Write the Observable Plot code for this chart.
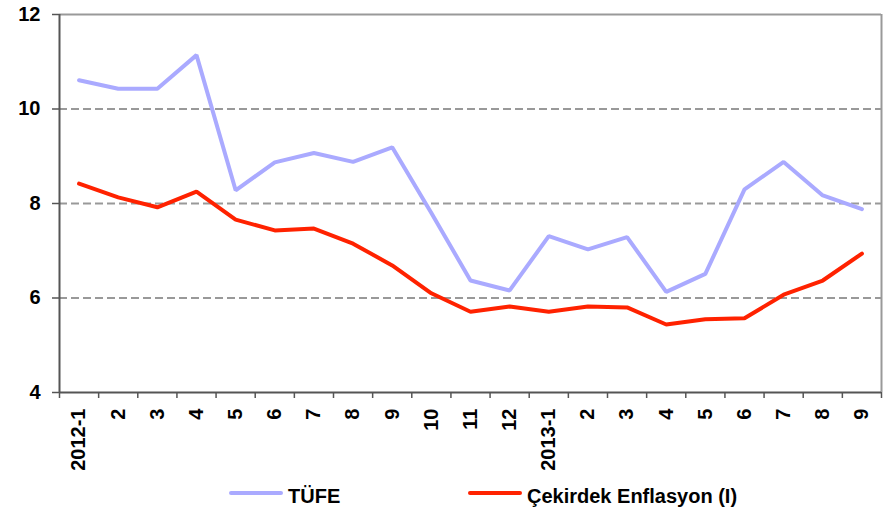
<!DOCTYPE html>
<html>
<head>
<meta charset="utf-8">
<script src="https://cdn.jsdelivr.net/npm/d3@7"></script>
<script src="https://cdn.jsdelivr.net/npm/@observablehq/plot@0.6"></script>
<style>
  html, body { margin: 0; padding: 0; background: #fff; }
  body { width: 891px; height: 510px; position: relative; overflow: hidden; font-family: "Liberation Sans", Arial, sans-serif; }
  #chart svg { display: block; }
  #legend { position: absolute; left: 0; top: 470px; width: 891px; height: 40px; }
  .sw { position: absolute; height: 4px; border-radius: 2px; }
  .lt { position: absolute; font-size: 20px; line-height: 20px; font-weight: bold; color: #000; white-space: nowrap; }
</style>
</head>
<body>
<div id="chart"></div>
<div id="legend"></div>
<script>
const months = ["2012-1","2","3","4","5","6","7","8","9","10","11","12","2013-1","2","3","4","5","6","7","8","9"];
const tufe = [10.61, 10.43, 10.43, 11.14, 8.28, 8.87, 9.07, 8.88, 9.19, 7.80, 6.37, 6.16, 7.31, 7.03, 7.29, 6.13, 6.51, 8.30, 8.88, 8.17, 7.88];
const cekirdek = [8.42, 8.13, 7.92, 8.25, 7.66, 7.43, 7.47, 7.15, 6.69, 6.10, 5.71, 5.82, 5.71, 5.82, 5.80, 5.44, 5.55, 5.57, 6.07, 6.37, 6.94];
const yTicks = [4, 6, 8, 10, 12];
const gridValues = [6, 8, 10];
const seriesNames = ["TÜFE", "Çekirdek Enflasyon (I)"];
const seriesColors = ["#aaaaff", "#ff2200"];

const idx = d3.range(months.length);
const data = [];
idx.forEach(i => data.push({i, v: tufe[i], s: seriesNames[0]}));
idx.forEach(i => data.push({i, v: cekirdek[i], s: seriesNames[1]}));

const chart = Plot.plot({
  width: 891,
  height: 470,
  marginLeft: 59,
  marginRight: 10,
  marginTop: 14,
  marginBottom: 78,
  style: { fontFamily: "'Liberation Sans', Arial, sans-serif", fontSize: "20px", fontWeight: "bold", color: "#000", background: "#fff" },
  x: { type: "linear", domain: [-0.5, months.length - 0.5] },
  y: { domain: [4, 12] },
  color: { domain: seriesNames, range: seriesColors },
  marks: [
    Plot.ruleY(gridValues, { stroke: "#999", strokeWidth: 2, strokeDasharray: "8,4" }),
    Plot.ruleY([12], { stroke: "#999", strokeWidth: 2 }),
    Plot.ruleX([months.length - 0.5], { stroke: "#999", strokeWidth: 2 }),
    Plot.lineY(data, { x: "i", y: "v", z: "s", stroke: "s", strokeWidth: 4, strokeLinejoin: "miter" }),
    Plot.ruleX([-0.5], { stroke: "#555", strokeWidth: 2 }),
    Plot.ruleY([4], { stroke: "#555", strokeWidth: 2 }),
    Plot.axisY({ ticks: yTicks, tickSize: 7, tickPadding: 12, tickFormat: d => String(d), stroke: "#555", strokeWidth: 1.5, fill: "#000", label: null }),
    Plot.axisX({ ticks: d3.range(-0.5, months.length), tickSize: 6, tickFormat: () => "", stroke: "#555", strokeWidth: 1.5, label: null }),
    Plot.axisX({ ticks: idx, tickSize: 0, tickPadding: 16, tickRotate: -90, tickFormat: i => months[i], fill: "#000", label: null })
  ]
});
document.getElementById("chart").appendChild(chart);

const legendItems = [
  { name: seriesNames[0], color: seriesColors[0], sx: 229, tx: 288 },
  { name: seriesNames[1], color: seriesColors[1], sx: 468, tx: 527 }
];
const legend = document.getElementById("legend");
legendItems.forEach(it => {
  const sw = document.createElement("div");
  sw.className = "sw";
  sw.style.left = it.sx + "px";
  sw.style.width = "54px";
  sw.style.top = "21px";
  sw.style.background = it.color;
  legend.appendChild(sw);
  const t = document.createElement("div");
  t.className = "lt";
  t.style.left = it.tx + "px";
  t.style.top = "16px";
  t.textContent = it.name;
  legend.appendChild(t);
});
</script>
</body>
</html>
